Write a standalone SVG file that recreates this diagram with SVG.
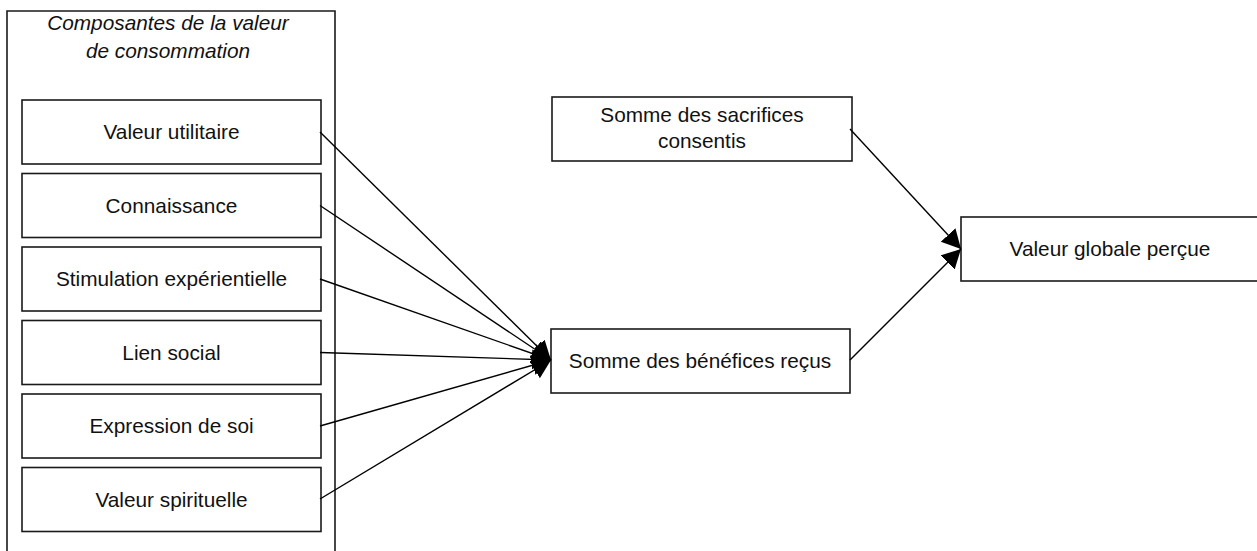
<svg xmlns="http://www.w3.org/2000/svg" width="1257" height="551" viewBox="0 0 1257 551">
  <style>
    .box { fill: #ffffff; stroke: #1a1a1a; stroke-width: 1.6; }
    .frame { fill: none; stroke: #1a1a1a; stroke-width: 1.6; }
    .lbl { font-family: "Liberation Sans", Arial, sans-serif; font-size: 20.8px; fill: #111111; text-anchor: middle; }
    .ttl { font-style: italic; }
    .link { fill: none; stroke: #000000; stroke-width: 1.4; marker-end: url(#arrow); }
  </style>
  <defs>
    <marker id="arrow" markerUnits="userSpaceOnUse" markerWidth="22" markerHeight="22" refX="19" refY="10" orient="auto">
      <path d="M0,0 L19,10 L0,20 z" fill="#000000"/>
    </marker>
  </defs>

  <rect width="1257" height="551" fill="#ffffff"/>

  <!-- container of consumption value components (open at the bottom) -->
  <g id="composantes">
    <path class="frame" d="M7,560 L7,11 L335,11 L335,560"/>
    <text class="lbl ttl" x="168" y="30">Composantes de la valeur</text>
    <text class="lbl ttl" x="168" y="58">de consommation</text>
  </g>

  <g id="valeur-utilitaire">
    <rect class="box" x="22" y="100" width="299" height="64"/>
    <text class="lbl" x="171.5" y="139">Valeur utilitaire</text>
  </g>
  <g id="connaissance">
    <rect class="box" x="22" y="173.5" width="299" height="64"/>
    <text class="lbl" x="171.5" y="212.5">Connaissance</text>
  </g>
  <g id="stimulation">
    <rect class="box" x="22" y="247" width="299" height="64"/>
    <text class="lbl" x="171.5" y="286">Stimulation expérientielle</text>
  </g>
  <g id="lien-social">
    <rect class="box" x="22" y="320.5" width="299" height="64"/>
    <text class="lbl" x="171.5" y="359.5">Lien social</text>
  </g>
  <g id="expression">
    <rect class="box" x="22" y="394" width="299" height="64"/>
    <text class="lbl" x="171.5" y="433">Expression de soi</text>
  </g>
  <g id="spirituelle">
    <rect class="box" x="22" y="467.5" width="299" height="64"/>
    <text class="lbl" x="171.5" y="506.5">Valeur spirituelle</text>
  </g>

  <g id="sacrifices">
    <rect class="box" x="552" y="97" width="300" height="64"/>
    <text class="lbl" x="702" y="122">Somme des sacrifices</text>
    <text class="lbl" x="702" y="148">consentis</text>
  </g>

  <g id="benefices">
    <rect class="box" x="551" y="329" width="299" height="64"/>
    <text class="lbl" x="700" y="367.5">Somme des bénéfices reçus</text>
  </g>

  <g id="valeur-globale">
    <rect class="box" x="961" y="217" width="310" height="64"/>
    <text class="lbl" x="1110" y="256">Valeur globale perçue</text>
  </g>

  <!-- connectors -->
  <g id="connecteurs">
    <line class="link" x1="320" y1="132" x2="551" y2="360"/>
    <line class="link" x1="320" y1="205.5" x2="551" y2="360"/>
    <line class="link" x1="320" y1="279" x2="551" y2="360"/>
    <line class="link" x1="320" y1="352.5" x2="551" y2="360"/>
    <line class="link" x1="320" y1="426" x2="551" y2="360"/>
    <line class="link" x1="320" y1="499" x2="551" y2="360"/>
    <line class="link" x1="850" y1="129" x2="961" y2="249"/>
    <line class="link" x1="850" y1="360" x2="961" y2="249"/>
  </g>
</svg>
